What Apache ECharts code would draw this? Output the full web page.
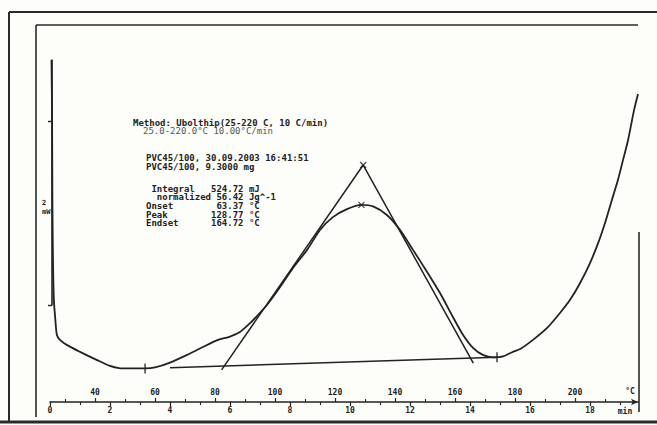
<!DOCTYPE html>
<html>
<head>
<meta charset="utf-8">
<script src="https://cdn.jsdelivr.net/npm/echarts@6/dist/echarts.min.js"></script>
<style>
  html, body { margin: 0; padding: 0; background: #fdfdfa; }
  #chart { width: 657px; height: 425px; }
</style>
</head>
<body>
<div id="chart"></div>
<script>
// DSC heat-flow trace: time in minutes, heat flow in mW
const timeMin = [
  0.05, 0.07, 0.08, 0.10, 0.13, 0.18, 0.23, 0.33, 0.57, 1.00,
  1.57, 2.00, 2.30, 2.67, 3.17, 3.50, 4.00, 4.57, 5.10, 5.60,
  6.00, 6.33, 6.67, 6.90, 7.23, 7.67, 8.10, 8.57, 9.00, 9.43,
  9.90, 10.38, 10.77, 11.23, 11.67, 12.10, 12.57, 13.00, 13.43, 13.77,
  14.10, 14.43, 14.77, 15.10, 15.43, 15.67, 16.10, 16.57, 17.00, 17.33,
  17.67, 18.00, 18.27, 18.50, 18.73, 18.93, 19.10, 19.27, 19.37, 19.47,
  19.60
];
const heatFlow = [
  8.00, 6.00, 3.40, 1.45, 0.15, -0.50, -0.98, -1.14, -1.31, -1.53,
  -1.80, -1.99, -2.06, -2.07, -2.07, -2.04, -1.88, -1.63, -1.37, -1.14,
  -1.03, -0.88, -0.59, -0.36, 0.00, 0.59, 1.21, 1.80, 2.45, 2.87,
  3.13, 3.27, 3.22, 2.94, 2.45, 1.80, 1.08, 0.39, -0.39, -0.98,
  -1.40, -1.63, -1.71, -1.68, -1.53, -1.44, -1.14, -0.75, -0.26, 0.16,
  0.72, 1.37, 2.02, 2.68, 3.43, 4.08, 4.73, 5.39, 5.88, 6.37,
  6.89
];

// evaluation construction: baseline and the two inflection tangents
const baselineTime = [4.00, 14.90];
const baselineFlow = [-2.05, -1.71];
const tangentTime = [5.72, 10.44, 14.11];
const tangentFlow = [-2.12, 4.57, -1.90];

// markers: peak and tangent apex (crosses), integration limits (bars)
const crossTime = [10.38, 10.44];
const crossFlow = [3.27, 4.57];
const limitTime = [3.17, 14.90];
const limitFlow = [-2.07, -1.71];

// axis ticks
const minuteLabels = [0, 2, 4, 6, 8, 10, 12, 14, 16, 18];
const minuteMinor = [1, 3, 5, 7, 9, 11, 13, 15, 17, 19];
const tempLabels = [40, 60, 80, 100, 120, 140, 160, 180, 200];
const tempMinor = [30, 50, 70, 90, 110, 130, 150, 170, 190, 210];
const flowTicks = [0, 6];

// printed evaluation text
const methodLines = [
  'Method: Ubolthip(25-220 C, 10 C/min)',
  '25.0-220.0°C 10.00°C/min',
  'PVC45/100, 30.09.2003 16:41:51',
  'PVC45/100, 9.3000 mg'
];
const resultLines = [
  ' Integral   524.72 mJ',
  '  normalized 56.42 Jg^-1',
  'Onset        63.37 °C',
  'Peak        128.77 °C',
  'Endset      164.72 °C'
];
const flowUnit = ['2', 'mW'];
const minuteUnit = 'min';
const tempUnit = '°C';

// ---------------------------------------------------------------
const ink = '#222222';
const mono = '"DejaVu Sans Mono", "Liberation Mono", monospace';

const pairs = (xs, ys) => xs.map((x, i) => [x, ys[i]]);

const axisBase = {
  type: 'value', position: 'bottom', offset: 97,
  splitLine: { show: false }
};
const hiddenLine = { show: false, onZero: false };

const textEl = (text, x, y, opts = {}) => ({
  type: 'text', x, y, silent: true,
  style: {
    text,
    font: (opts.weight || 'bold') + ' ' + (opts.size || 9) + 'px ' + mono,
    fill: opts.fill || ink,
    textAlign: opts.align || 'left',
    textVerticalAlign: 'middle'
  }
});
const lineEl = (x1, y1, x2, y2, w) => ({
  type: 'line', silent: true,
  shape: { x1, y1, x2, y2 },
  style: { stroke: '#2a2a2a', lineWidth: w }
});

const graphics = [
  // frames
  lineEl(9, 12, 657, 12, 2),
  lineEl(9, 12, 9, 421, 2),
  lineEl(0, 422, 657, 422, 3),
  lineEl(36, 25, 638, 25, 1.6),
  lineEl(36, 25, 36, 417, 1.6),
  lineEl(639, 232, 639, 412, 1.6),
  // units
  textEl(flowUnit[0], 42, 203, { size: 7 }),
  textEl(flowUnit[1], 42, 212, { size: 7 }),
  textEl(minuteUnit, 625, 411, { size: 8, align: 'center' }),
  textEl(tempUnit, 630, 391, { size: 8, align: 'center' })
];

const methodX = [133, 143, 146, 146];
const methodY = [122.5, 131, 158, 167];
methodLines.forEach((t, i) => {
  graphics.push(textEl(t, methodX[i], methodY[i], i === 1 ? { weight: 'normal', fill: '#555' } : {}));
});
const resultY = [188.5, 197, 206, 214.5, 223];
resultLines.forEach((t, i) => graphics.push(textEl(t, 146, resultY[i])));

const axisFont = { fontFamily: mono, fontSize: 8, fontWeight: 'bold', color: ink };

const option = {
  animation: false,
  backgroundColor: '#fdfdfa',
  grid: { left: 50, right: 19, top: 60, bottom: 120, outerBoundsMode: 'none' },
  xAxis: [
    Object.assign({}, axisBase, {
      min: 0, max: 19.6,
      axisLine: { show: true, onZero: false, symbol: ['none', 'arrow'], symbolSize: [5, 7],
        lineStyle: { color: ink, width: 1.6 } },
      axisTick: { show: true, customValues: minuteLabels, length: 4, lineStyle: { color: ink, width: 1.2 } },
      axisLabel: Object.assign({ customValues: minuteLabels, margin: 4 }, axisFont)
    }),
    Object.assign({}, axisBase, {
      min: 0, max: 19.6,
      axisLine: hiddenLine,
      axisTick: { show: true, customValues: minuteMinor, length: 3, lineStyle: { color: ink, width: 1.1 } },
      axisLabel: { show: false }
    }),
    Object.assign({}, axisBase, {
      min: 25, max: 221,
      axisLine: hiddenLine,
      axisTick: { show: true, inside: true, customValues: tempLabels, length: 4, lineStyle: { color: ink, width: 1.2 } },
      axisLabel: Object.assign({ inside: true, customValues: tempLabels, margin: 6 }, axisFont)
    }),
    Object.assign({}, axisBase, {
      min: 25, max: 221,
      axisLine: hiddenLine,
      axisTick: { show: true, inside: true, customValues: tempMinor, length: 3, lineStyle: { color: ink, width: 1.1 } },
      axisLabel: { show: false }
    })
  ],
  yAxis: {
    type: 'value', min: 0, max: 8, position: 'left', offset: -2,
    axisLine: { show: true, onZero: false, lineStyle: { color: ink, width: 1.6 } },
    axisTick: { show: true, customValues: flowTicks, length: 4, lineStyle: { color: ink, width: 1.4 } },
    axisLabel: { show: false },
    splitLine: { show: false }
  },
  series: [
    {
      name: 'heat flow', type: 'line', clip: false, showSymbol: false, smooth: 0.25,
      data: pairs(timeMin, heatFlow),
      lineStyle: { color: ink, width: 1.8 }
    },
    {
      name: 'baseline', type: 'line', clip: false, showSymbol: false,
      data: pairs(baselineTime, baselineFlow),
      lineStyle: { color: ink, width: 1.5 }
    },
    {
      name: 'tangents', type: 'line', clip: false, showSymbol: false,
      data: pairs(tangentTime, tangentFlow),
      lineStyle: { color: ink, width: 1.5 }
    },
    {
      name: 'cross marks', type: 'scatter', clip: false,
      symbol: 'path://M0,0L10,10M10,0L0,10', symbolSize: 6,
      data: pairs(crossTime, crossFlow),
      itemStyle: { color: 'transparent', borderColor: ink, borderWidth: 1.3 }
    },
    {
      name: 'limits', type: 'scatter', clip: false,
      symbol: 'rect', symbolSize: [1.6, 10],
      data: pairs(limitTime, limitFlow),
      itemStyle: { color: ink }
    }
  ],
  graphic: graphics
};

const chart = echarts.init(document.getElementById('chart'), null, { renderer: 'svg' });
chart.setOption(option);
</script>
</body>
</html>
